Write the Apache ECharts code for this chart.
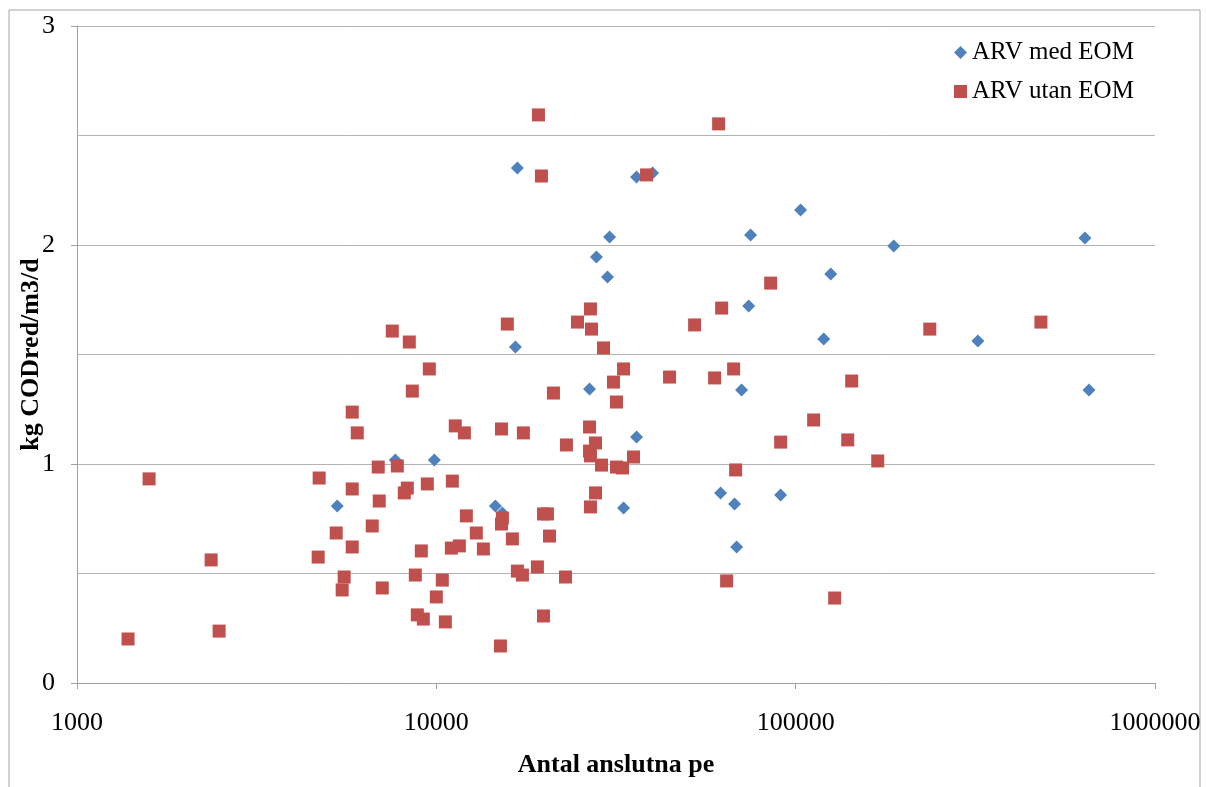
<!DOCTYPE html>
<html>
<head>
<meta charset="utf-8">
<script src="https://cdn.jsdelivr.net/npm/echarts@6/dist/echarts.min.js"></script>
<style>
html,body{margin:0;padding:0;background:#fff;}
#chart{width:1206px;height:787px;}
</style>
</head>
<body>
<div id="chart"></div>
<script>
// ARV med EOM
const medX = [5300, 7690, 9870, 14600, 15270, 16810, 16600, 26690, 27900, 29950,
  30340, 33190, 36070, 36070, 39970, 61800, 67600, 68500, 70700, 74000,
  74900, 90800, 103200, 119700, 125200, 187500, 321400, 638300, 655000];
const medY = [0.808, 1.018, 1.018, 0.808, 0.776, 2.352, 1.534, 1.342, 1.945, 1.854,
  2.037, 0.799, 1.123, 2.311, 2.329, 0.868, 0.817, 0.621, 1.338, 1.721,
  2.046, 0.858, 2.160, 1.571, 1.868, 1.995, 1.562, 2.032, 1.338];

// ARV utan EOM
const utanX = [1387, 1587, 2362, 2486, 4690, 4720, 5265, 5540, 5470, 5834,
  5834, 5834, 6025, 6632, 6892, 6936, 7072, 7541, 7788, 8144,
  8303, 8410, 8573, 8740, 8853, 9083, 9200, 9439, 9561, 10000,
  10390, 10595, 11010, 11080, 11290, 11590, 11970, 12120, 12920, 13520,
  15080, 15180, 15270, 15180, 15760, 16280, 16810, 17360, 17470, 19110,
  19240, 19610, 19870, 19870, 20380, 20650, 21180, 22880, 23020, 24710,
  26690, 26690, 26850, 26850, 26850, 27030, 27730, 27730, 28820, 29190,
  31120, 31720, 31720, 33190, 32970, 35380, 38460, 44570, 52330, 59490,
  61040, 62230, 64250, 67190, 68060, 85200, 90830, 112200, 128400, 139600,
  143200, 169200, 236200, 481400];
const utanY = [0.201, 0.932, 0.562, 0.237, 0.575, 0.936, 0.685, 0.484, 0.425, 1.237,
  0.886, 0.621, 1.142, 0.717, 0.986, 0.831, 0.434, 1.607, 0.991, 0.868,
  0.890, 1.557, 1.333, 0.493, 0.311, 0.603, 0.292, 0.909, 1.434, 0.393,
  0.470, 0.279, 0.616, 0.922, 1.174, 0.626, 1.142, 0.763, 0.685, 0.612,
  0.169, 1.160, 0.753, 0.726, 1.639, 0.658, 0.511, 0.493, 1.142, 0.530,
  2.594, 2.315, 0.772, 0.306, 0.772, 0.671, 1.324, 0.484, 1.087, 1.648,
  1.169, 1.059, 1.037, 1.708, 0.804, 1.616, 1.096, 0.868, 0.995, 1.530,
  1.374, 0.986, 1.283, 1.434, 0.982, 1.032, 2.320, 1.397, 1.635, 1.393,
  2.553, 1.712, 0.466, 1.434, 0.973, 1.826, 1.100, 1.201, 0.388, 1.110,
  1.379, 1.014, 1.616, 1.648];

const seriesNames = ['ARV med EOM', 'ARV utan EOM'];
const xTitle = 'Antal anslutna pe';
const yTitle = 'kg CODred/m3/d';

const pairs = (xs, ys) => xs.map((x, i) => [x, ys[i]]);
const FONT = '"Liberation Serif", "Times New Roman", serif';

const chart = echarts.init(document.getElementById('chart'), null, {renderer: 'canvas'});
chart.setOption({
  animation: false,
  backgroundColor: '#ffffff',
  textStyle: {fontFamily: FONT, color: '#000'},
  graphic: [{
    type: 'rect',
    shape: {x: 9, y: 10, width: 1191, height: 800},
    style: {fill: 'none', stroke: '#a6a6a6', lineWidth: 1},
    silent: true,
    z: -1
  }],
  grid: {left: 77, top: 26, right: 51, bottom: 104, containLabel: false},
  legend: {
    orient: 'vertical',
    left: 949,
    top: 35,
    itemWidth: 13,
    itemHeight: 13,
    itemGap: 14,
    textStyle: {fontFamily: FONT, fontSize: 25, color: '#000'},
    data: [
      {name: seriesNames[0], icon: 'diamond'},
      {name: seriesNames[1], icon: 'rect'}
    ]
  },
  xAxis: {
    type: 'log',
    logBase: 10,
    min: 1000,
    max: 1000000,
    name: xTitle,
    nameLocation: 'middle',
    nameGap: 69,
    nameTextStyle: {fontFamily: FONT, fontSize: 26, fontWeight: 'bold', color: '#000'},
    axisLine: {show: true, lineStyle: {color: '#a0a0a0', width: 1}},
    axisTick: {show: true, inside: false, length: 6, lineStyle: {color: '#a0a0a0'}},
    axisLabel: {
      fontFamily: FONT, fontSize: 26, color: '#000', margin: 27,
      formatter: v => String(Math.round(v))
    },
    splitLine: {show: false},
    minorTick: {show: false},
    minorSplitLine: {show: false}
  },
  yAxis: {
    type: 'value',
    min: 0,
    max: 3,
    interval: 1,
    name: yTitle,
    nameLocation: 'middle',
    nameGap: 33,
    nameMoveOverlap: false,
    nameTextStyle: {fontFamily: FONT, fontSize: 26, fontWeight: 'bold', color: '#000'},
    axisLine: {show: true, lineStyle: {color: '#a0a0a0', width: 1}},
    axisTick: {show: true, inside: false, length: 6, lineStyle: {color: '#a0a0a0'}},
    axisLabel: {fontFamily: FONT, fontSize: 26, color: '#000', margin: 22},
    splitLine: {show: true, lineStyle: {color: '#b4b4b4', width: 1}},
    minorTick: {show: false, splitNumber: 2},
    minorSplitLine: {show: true, lineStyle: {color: '#b4b4b4', width: 1}}
  },
  series: [
    {
      name: seriesNames[0],
      type: 'scatter',
      symbol: 'diamond',
      symbolSize: 13,
      itemStyle: {color: '#4F81BD', opacity: 1},
      data: pairs(medX, medY),
      z: 2
    },
    {
      name: seriesNames[1],
      type: 'scatter',
      symbol: 'rect',
      symbolSize: 13,
      itemStyle: {color: '#C0504D', opacity: 1},
      data: pairs(utanX, utanY),
      z: 3
    }
  ]
});
</script>
</body>
</html>
